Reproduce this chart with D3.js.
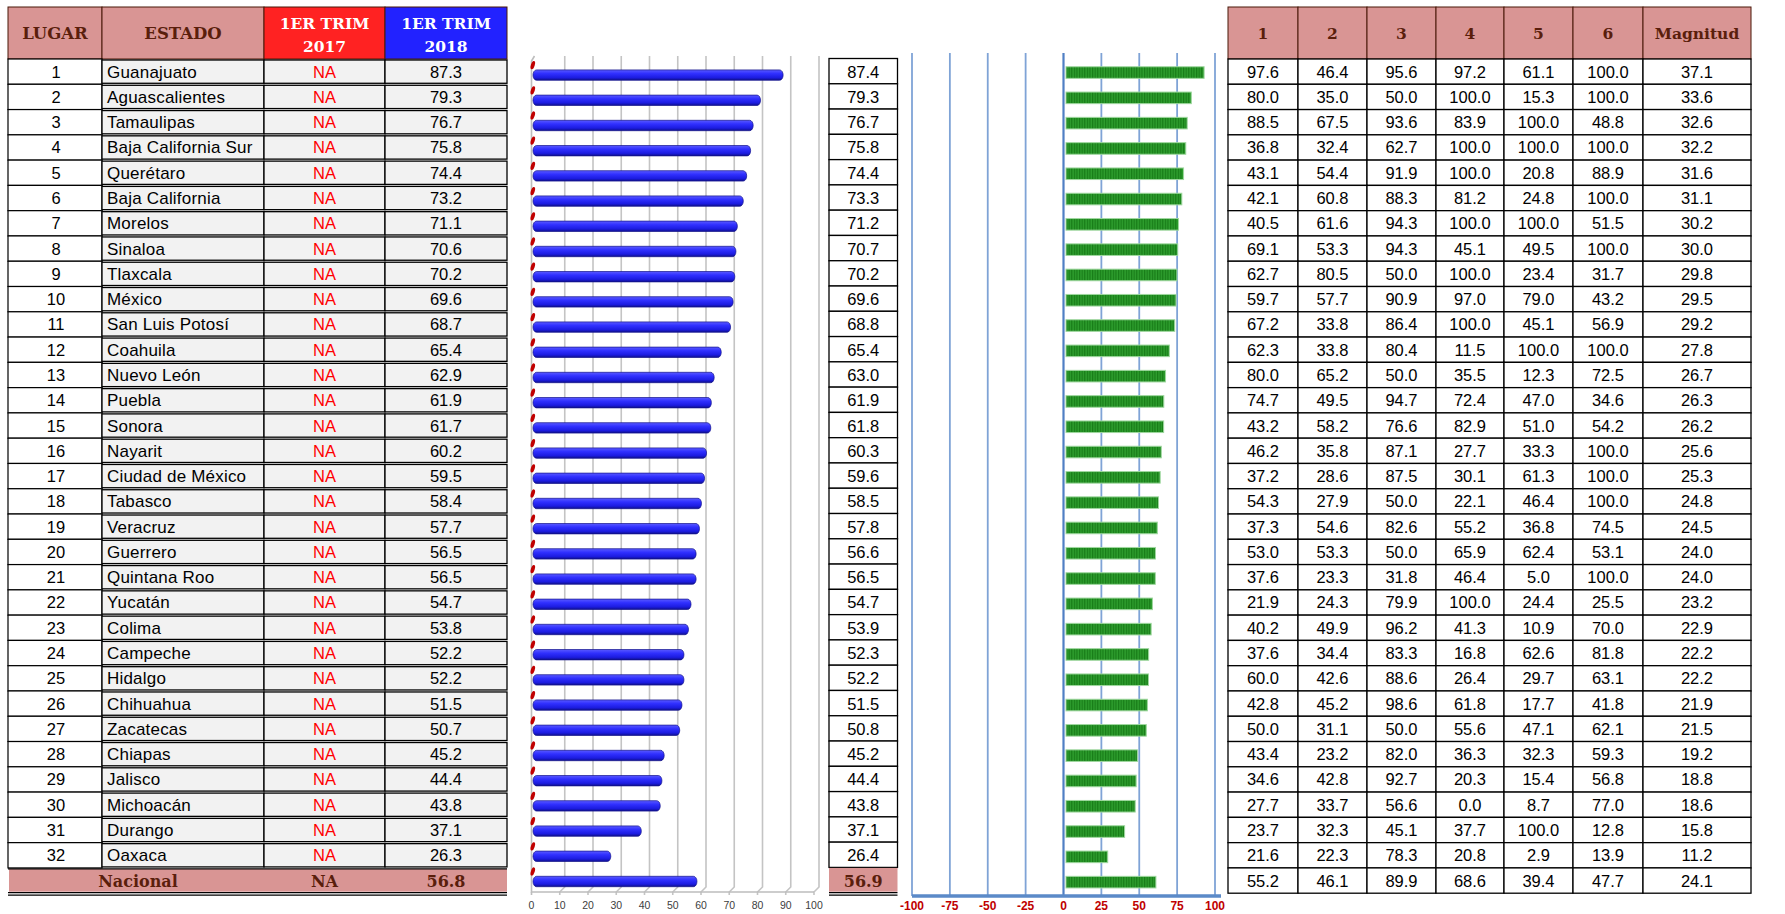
<!DOCTYPE html>
<html><head><meta charset="utf-8">
<script src="https://cdn.jsdelivr.net/npm/d3@7"></script>
<style>
html,body{margin:0;padding:0;background:#fff;}
svg{display:block;}
</style>
</head><body>
<svg id="chart" width="1785" height="914"></svg>
<script>
// ---------------- DATA ----------------
const estados = ["Guanajuato","Aguascalientes","Tamaulipas","Baja California Sur","Querétaro","Baja California","Morelos","Sinaloa","Tlaxcala","México","San Luis Potosí","Coahuila","Nuevo León","Puebla","Sonora","Nayarit","Ciudad de México","Tabasco","Veracruz","Guerrero","Quintana Roo","Yucatán","Colima","Campeche","Hidalgo","Chihuahua","Zacatecas","Chiapas","Jalisco","Michoacán","Durango","Oaxaca"];
const lugar = [1,2,3,4,5,6,7,8,9,10,11,12,13,14,15,16,17,18,19,20,21,22,23,24,25,26,27,28,29,30,31,32];
const trim2017 = ["NA","NA","NA","NA","NA","NA","NA","NA","NA","NA","NA","NA","NA","NA","NA","NA","NA","NA","NA","NA","NA","NA","NA","NA","NA","NA","NA","NA","NA","NA","NA","NA"];
const trim2018 = [87.3,79.3,76.7,75.8,74.4,73.2,71.1,70.6,70.2,69.6,68.7,65.4,62.9,61.9,61.7,60.2,59.5,58.4,57.7,56.5,56.5,54.7,53.8,52.2,52.2,51.5,50.7,45.2,44.4,43.8,37.1,26.3];
const nacional2017 = "NA";
const nacional2018 = 56.8;
// index column (middle table) incl. Nacional as last
const indice = [87.4,79.3,76.7,75.8,74.4,73.3,71.2,70.7,70.2,69.6,68.8,65.4,63.0,61.9,61.8,60.3,59.6,58.5,57.8,56.6,56.5,54.7,53.9,52.3,52.2,51.5,50.8,45.2,44.4,43.8,37.1,26.4,56.9];
// right table (32 states + Nacional)
const col1 = [97.6,80.0,88.5,36.8,43.1,42.1,40.5,69.1,62.7,59.7,67.2,62.3,80.0,74.7,43.2,46.2,37.2,54.3,37.3,53.0,37.6,21.9,40.2,37.6,60.0,42.8,50.0,43.4,34.6,27.7,23.7,21.6,55.2];
const col2 = [46.4,35.0,67.5,32.4,54.4,60.8,61.6,53.3,80.5,57.7,33.8,33.8,65.2,49.5,58.2,35.8,28.6,27.9,54.6,53.3,23.3,24.3,49.9,34.4,42.6,45.2,31.1,23.2,42.8,33.7,32.3,22.3,46.1];
const col3 = [95.6,50.0,93.6,62.7,91.9,88.3,94.3,94.3,50.0,90.9,86.4,80.4,50.0,94.7,76.6,87.1,87.5,50.0,82.6,50.0,31.8,79.9,96.2,83.3,88.6,98.6,50.0,82.0,92.7,56.6,45.1,78.3,89.9];
const col4 = [97.2,100.0,83.9,100.0,100.0,81.2,100.0,45.1,100.0,97.0,100.0,11.5,35.5,72.4,82.9,27.7,30.1,22.1,55.2,65.9,46.4,100.0,41.3,16.8,26.4,61.8,55.6,36.3,20.3,0.0,37.7,20.8,68.6];
const col5 = [61.1,15.3,100.0,100.0,20.8,24.8,100.0,49.5,23.4,79.0,45.1,100.0,12.3,47.0,51.0,33.3,61.3,46.4,36.8,62.4,5.0,24.4,10.9,62.6,29.7,17.7,47.1,32.3,15.4,8.7,100.0,2.9,39.4];
const col6 = [100.0,100.0,48.8,100.0,88.9,100.0,51.5,100.0,31.7,43.2,56.9,100.0,72.5,34.6,54.2,100.0,100.0,100.0,74.5,53.1,100.0,25.5,70.0,81.8,63.1,41.8,62.1,59.3,56.8,77.0,12.8,13.9,47.7];
const magnitud = [37.1,33.6,32.6,32.2,31.6,31.1,30.2,30.0,29.8,29.5,29.2,27.8,26.7,26.3,26.2,25.6,25.3,24.8,24.5,24.0,24.0,23.2,22.9,22.2,22.2,21.9,21.5,19.2,18.8,18.6,15.8,11.2,24.1];
const rightHeaders = ["1","2","3","4","5","6","Magnitud"];
const leftHeaders = ["LUGAR","ESTADO",["1ER TRIM","2017"],["1ER TRIM","2018"]];
const barTicks = [0,10,20,30,40,50,60,70,80,90,100];
const greenTicks = [-100,-75,-50,-25,0,25,50,75,100];

// ---------------- SETUP ----------------
const svg = d3.select("#chart");
const SANS = "'Liberation Sans', Arial, sans-serif";
const SERIF = "'DejaVu Serif', serif";
const PINK = "#d99594";
const BROWN = "#5a1e0c";
const fmt = d3.format(".1f");
const n = 33;
const rowIdx = d3.range(n);
const rows = d3.scaleBand().domain(rowIdx).range([59, 893.2]);

const defs = svg.append("defs");
const bg = defs.append("linearGradient").attr("id","blueGrad").attr("x1",0).attr("y1",0).attr("x2",0).attr("y2",1);
bg.append("stop").attr("offset","0%").attr("stop-color","#5a5aff");
bg.append("stop").attr("offset","35%").attr("stop-color","#3030ff");
bg.append("stop").attr("offset","75%").attr("stop-color","#1c1ce0");
bg.append("stop").attr("offset","100%").attr("stop-color","#10108a");
const pat = defs.append("pattern").attr("id","greenStripe").attr("patternUnits","userSpaceOnUse").attr("width",2.6).attr("height",20);
pat.append("rect").attr("width",2.6).attr("height",20).attr("fill","#2e9e2e");
pat.append("rect").attr("width",1.2).attr("height",20).attr("fill","#187c18");

// ---------------- LEFT TABLE ----------------
const lCols = [8, 102, 264, 385, 507];
const lHeadFill = [PINK, PINK, "#ff2222", "#2222ff"];
const lHeadText = [BROWN, BROWN, "#ffffff", "#ffffff"];
const gL = svg.append("g");
leftHeaders.forEach((h,i)=>{
  gL.append("rect").attr("x",lCols[i]).attr("y",7).attr("width",lCols[i+1]-lCols[i]).attr("height",52)
    .attr("fill",lHeadFill[i]).attr("stroke","#4a1808").attr("stroke-width",1);
  const cx = (lCols[i]+lCols[i+1])/2;
  if (Array.isArray(h)) {
    h.forEach((t,k)=>gL.append("text").attr("x",cx).attr("y",29+k*23).attr("text-anchor","middle")
      .attr("font-family",SERIF).attr("font-weight","bold").attr("font-size",15.5).attr("fill",lHeadText[i]).text(t));
  } else {
    gL.append("text").attr("x",cx).attr("y",39).attr("text-anchor","middle")
      .attr("font-family",SERIF).attr("font-weight","bold").attr("font-size",16.5).attr("fill",lHeadText[i]).text(h);
  }
});
const stateRows = d3.range(32);
stateRows.forEach(i=>{
  const y0 = rows(i), h = rows.bandwidth();
  gL.append("rect").attr("x",lCols[0]).attr("y",y0).attr("width",lCols[1]-lCols[0]).attr("height",h)
    .attr("fill","#fff").attr("stroke","#000").attr("stroke-width",1.2);
  for (let c=1;c<4;c++){
    gL.append("rect").attr("x",lCols[c]).attr("y",y0+1).attr("width",lCols[c+1]-lCols[c]).attr("height",h-2)
      .attr("fill","#f2f2f2").attr("stroke","#000").attr("stroke-width",1.3);
  }
  const ty = y0 + h/2 + 6;
  gL.append("text").attr("x",(lCols[0]+lCols[1])/2+1).attr("y",ty).attr("text-anchor","middle")
    .attr("font-family",SANS).attr("font-size",16.5).attr("fill","#000").text(lugar[i]);
  gL.append("text").attr("x",lCols[1]+5).attr("y",ty)
    .attr("font-family",SANS).attr("font-size",17).attr("letter-spacing",0.2).attr("fill","#000").text(estados[i]);
  gL.append("text").attr("x",(lCols[2]+lCols[3])/2).attr("y",ty).attr("text-anchor","middle")
    .attr("font-family",SANS).attr("font-size",16.5).attr("fill","#ff0000").text(trim2017[i]);
  gL.append("text").attr("x",(lCols[3]+lCols[4])/2).attr("y",ty).attr("text-anchor","middle")
    .attr("font-family",SANS).attr("font-size",16.5).attr("fill","#000").text(fmt(trim2018[i]));
});
// Nacional row
{
  const y0 = rows(32), h = rows.bandwidth();
  gL.append("rect").attr("x",lCols[0]+1).attr("y",y0+1).attr("width",lCols[4]-lCols[0]-1).attr("height",h-2.5).attr("fill",PINK);
  gL.append("line").attr("x1",lCols[0]).attr("x2",lCols[4]).attr("y1",y0+1).attr("y2",y0+1).attr("stroke","#000").attr("stroke-width",1.3);
  gL.append("line").attr("x1",lCols[0]).attr("x2",lCols[4]).attr("y1",y0+h-0.5).attr("y2",y0+h-0.5).attr("stroke","#000").attr("stroke-width",1.2);
  gL.append("line").attr("x1",lCols[0]).attr("x2",lCols[4]).attr("y1",y0+h+2).attr("y2",y0+h+2).attr("stroke","#000").attr("stroke-width",1.2);
  const ty = y0 + h/2 + 6;
  [["Nacional",(lCols[0]+lCols[2])/2+2],[nacional2017,(lCols[2]+lCols[3])/2],[fmt(nacional2018),(lCols[3]+lCols[4])/2]].forEach(([t,x])=>{
    gL.append("text").attr("x",x).attr("y",ty).attr("text-anchor","middle")
      .attr("font-family",SERIF).attr("font-weight","bold").attr("font-size",16).attr("fill",BROWN).text(t);
  });
}

// ---------------- BLUE 3D BAR CHART ----------------
const xf = d3.scaleLinear().domain([0,100]).range([531.5,814]);   // front plane
const xb = d3.scaleLinear().domain([0,100]).range([536.5,819]);   // back plane
const yb = d3.scaleBand().domain(rowIdx).range([62.5, 62.5+33*25.2]);
const gB = svg.append("g");
barTicks.filter(t=>t>0).forEach(t=>{
  gB.append("polyline").attr("points",`${xb(t)},56 ${xb(t)},887 ${xf(t)},892 ${xf(t)},895`)
    .attr("fill","none").attr("stroke","#c4c4c4").attr("stroke-width",1.6);
});
gB.append("polyline").attr("points",`${xb(0)-2},56 ${xf(0)},61 ${xf(0)},892 ${xf(100)},892`)
  .attr("fill","none").attr("stroke","#bdbdbd").attr("stroke-width",1.6);
gB.append("line").attr("x1",xf(0)).attr("x2",xf(0)).attr("y1",892).attr("y2",895).attr("stroke","#bdbdbd").attr("stroke-width",1.6);
barTicks.forEach(t=>{
  gB.append("text").attr("x",xf(t)).attr("y",909).attr("text-anchor","middle")
    .attr("font-family",SANS).attr("font-size",10.5).attr("fill","#404040").text(t);
});
const blueVals = trim2018.concat([nacional2018]);
gB.selectAll("rect.bar").data(blueVals).join("rect").attr("class","bar")
  .attr("x",xb(0)-3.5).attr("y",(d,i)=>yb(i)+yb.bandwidth()/2-5.2)
  .attr("width",d=>xb(d)-xb(0)+3.5).attr("height",10.4).attr("rx",3.5).attr("ry",5.2)
  .attr("fill","url(#blueGrad)").attr("stroke","#12128c").attr("stroke-width",0.7);
// 2017 series (NA -> zero-length cylinder caps)
gB.selectAll("ellipse.cap").data(blueVals).join("ellipse").attr("class","cap")
  .attr("cx",0).attr("cy",0).attr("rx",1.9).attr("ry",4.3)
  .attr("transform",(d,i)=>`translate(${xf(0)+1.3},${yb(i)+yb.bandwidth()/2-10}) rotate(18)`)
  .attr("fill","#c00000");

// ---------------- MIDDLE TABLE ----------------
const mX0 = 829, mX1 = 897.5;
const gM = svg.append("g");
d3.range(32).forEach(i=>{
  const y0 = rows(i), h = rows.bandwidth();
  gM.append("rect").attr("x",mX0).attr("y",y0-0.5).attr("width",mX1-mX0).attr("height",h)
    .attr("fill","#fff").attr("stroke","#000").attr("stroke-width",1.3);
  gM.append("text").attr("x",(mX0+mX1)/2).attr("y",y0+h/2+6).attr("text-anchor","middle")
    .attr("font-family",SANS).attr("font-size",16.5).attr("fill","#000").text(fmt(indice[i]));
});
{
  const y0 = rows(32), h = rows.bandwidth();
  gM.append("rect").attr("x",mX0).attr("y",y0).attr("width",mX1-mX0).attr("height",h-1.5).attr("fill",PINK);
  gM.append("line").attr("x1",mX0).attr("x2",mX1).attr("y1",y0+h-0.5).attr("y2",y0+h-0.5).attr("stroke","#000").attr("stroke-width",1.2);
  gM.append("line").attr("x1",mX0).attr("x2",mX1).attr("y1",y0+h+2).attr("y2",y0+h+2).attr("stroke","#000").attr("stroke-width",1.2);
  gM.append("text").attr("x",(mX0+mX1)/2).attr("y",y0+h/2+6).attr("text-anchor","middle")
    .attr("font-family",SERIF).attr("font-weight","bold").attr("font-size",16).attr("fill",BROWN).text(fmt(indice[32]));
}

// ---------------- GREEN BAR CHART ----------------
const xg = d3.scaleLinear().domain([-100,100]).range([912,1215]);   // axis
const xgb = d3.scaleLinear().domain([0,100]).range([1066,1224]);    // bar layer
const yg = d3.scaleBand().domain(rowIdx).range([59.9, 59.9+33*25.3]);
const gG = svg.append("g");
greenTicks.forEach(t=>{
  gG.append("line").attr("x1",xg(t)).attr("x2",xg(t)).attr("y1",53).attr("y2",896)
    .attr("stroke", t===0 ? "#4f7fc4" : "#7fa3d6").attr("stroke-width", t===0 ? 2.2 : 1.8);
});
gG.append("line").attr("x1",xg(-100)).attr("x2",xg(100)+6).attr("y1",896).attr("y2",896)
  .attr("stroke","#5b8ac8").attr("stroke-width",3.5);
greenTicks.forEach(t=>{
  gG.append("text").attr("x",xg(t)).attr("y",910).attr("text-anchor","middle")
    .attr("font-family",SANS).attr("font-weight","bold").attr("font-size",12).attr("fill","#c00000").text(t);
});
gG.selectAll("rect.gbar").data(indice).join("rect").attr("class","gbar")
  .attr("x",xgb(0)).attr("y",(d,i)=>yg(i)+yg.bandwidth()/2-5.8)
  .attr("width",d=>xgb(d)-xgb(0)).attr("height",11.6)
  .attr("fill","url(#greenStripe)").attr("stroke","#9fd89f").attr("stroke-width",1);

// ---------------- RIGHT TABLE ----------------
const rCols = [1228,1298,1367,1436,1504,1573,1643,1751];
const rData = [col1,col2,col3,col4,col5,col6,magnitud];
const gR = svg.append("g");
rightHeaders.forEach((h,c)=>{
  gR.append("rect").attr("x",rCols[c]).attr("y",7).attr("width",rCols[c+1]-rCols[c]).attr("height",52)
    .attr("fill",PINK).attr("stroke","#4a1808").attr("stroke-width",1);
  gR.append("text").attr("x",(rCols[c]+rCols[c+1])/2).attr("y",39).attr("text-anchor","middle")
    .attr("font-family",SERIF).attr("font-weight","bold").attr("font-size",15.5).attr("fill",BROWN).text(h);
});
rowIdx.forEach(i=>{
  const y0 = rows(i), h = rows.bandwidth();
  rData.forEach((arr,c)=>{
    gR.append("rect").attr("x",rCols[c]).attr("y",y0).attr("width",rCols[c+1]-rCols[c]).attr("height",h)
      .attr("fill","#fff").attr("stroke","#000").attr("stroke-width",1.3);
    gR.append("text").attr("x",(rCols[c]+rCols[c+1])/2).attr("y",y0+h/2+6).attr("text-anchor","middle")
      .attr("font-family",SANS).attr("font-size",16.5).attr("fill","#000").text(fmt(arr[i]));
  });
});
</script>
</body></html>
